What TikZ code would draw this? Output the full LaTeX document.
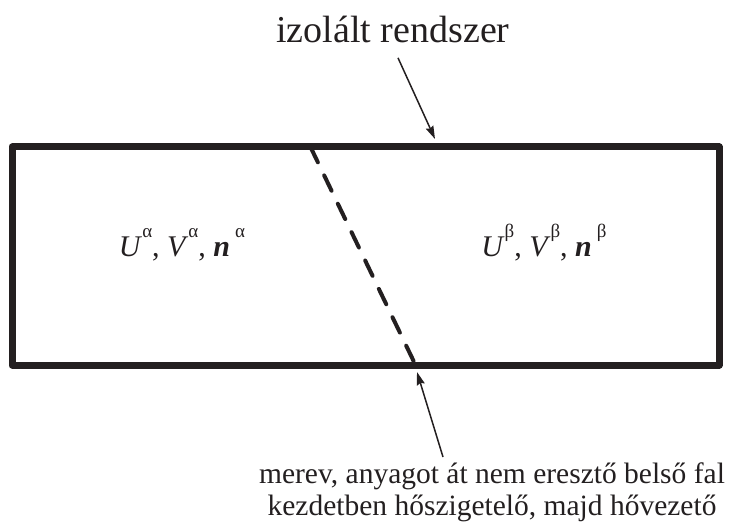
\documentclass[tikz,border=0pt]{standalone}
\usepackage{fontspec}
\setmainfont{Liberation Serif}
\usetikzlibrary{arrows.meta}
\definecolor{ink}{HTML}{231F20}

\newcommand{\greeksup}[1]{\raisebox{0.66em}{\fontsize{19}{19}\selectfont #1}}

\begin{document}
\begin{tikzpicture}[x=1pt, y=-1pt, color=ink,
    pointer/.style={line width=1.5pt, -{Stealth[length=13pt, width=8pt, inset=1.5pt]}},
    title/.style={font=\fontsize{38}{44}\selectfont, anchor=base},
    note/.style={font=\fontsize{29.5}{34}\selectfont, anchor=base},
    phase/.style={font=\fontsize{30}{36}\selectfont, anchor=base}]
    \useasboundingbox (0,0) rectangle (731,529);

    % Isolated system
    \draw[line width=7pt, line join=round] (12,147) rectangle (719,365);

    % Inner wall
    \draw[line width=4pt, line cap=round, dash pattern=on 17pt off 14.5pt]
        (310.5,147) -- (415.5,365);

    % Phases
    \node[phase] (alpha) at (182,257)
        {\textit{U}\greeksup{α}, \textit{V}\greeksup{α}, \textbf{\textit{n}}\,\greeksup{α}};
    \node[phase] (beta) at (544,257)
        {\textit{U}\greeksup{β}, \textit{V}\greeksup{β}, \textbf{\textit{n}}\,\greeksup{β}};

    % Labels
    \node[title] (title) at (393,43) {izolált rendszer};
    \node[note] (wall1) at (492,483) {merev, anyagot át nem eresztő belső fal};
    \node[note] (wall2) at (492,515) {kezdetben hőszigetelő, majd hővezető};

    % Arrows
    \coordinate (titleTip) at (435,139);
    \coordinate (wallTail) at (443,457);
    \coordinate (wallTip) at (417,372);
    \draw[pointer, shorten <=12pt] (title.south) -- (titleTip);
    \draw[pointer] (wallTail) -- (wallTip);
\end{tikzpicture}
\end{document}
